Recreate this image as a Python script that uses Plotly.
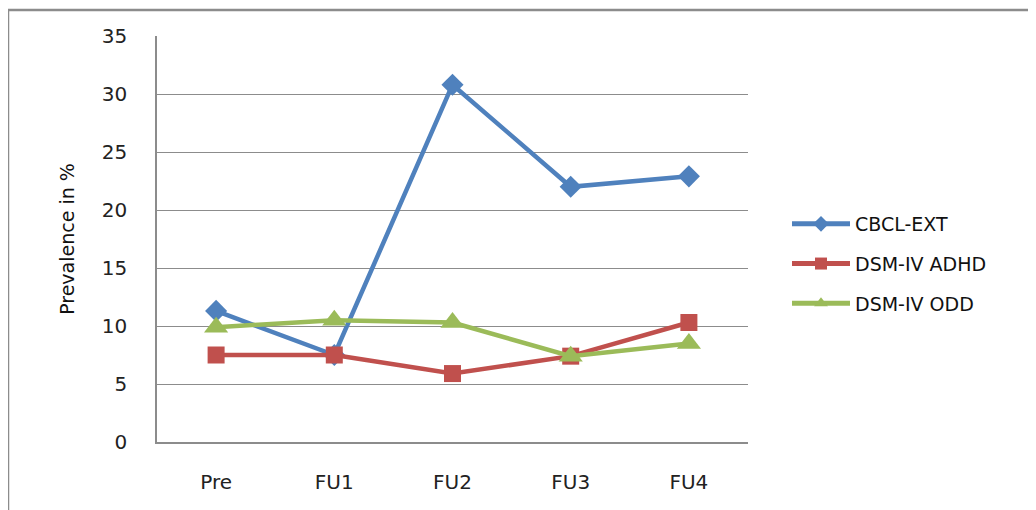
import plotly.graph_objects as go

categories = ["Pre", "FU1", "FU2", "FU3", "FU4"]
cbcl_ext = [11.3, 7.5, 30.8, 22.0, 22.9]
dsm_adhd = [7.5, 7.5, 5.9, 7.4, 10.3]
dsm_odd = [9.9, 10.5, 10.3, 7.4, 8.5]
y_ticks = [0, 5, 10, 15, 20, 25, 30, 35]

series = [
    ("CBCL-EXT", cbcl_ext, "#4F81BD", "diamond", 17),
    ("DSM-IV ADHD", dsm_adhd, "#C0504D", "square", 17),
    ("DSM-IV ODD", dsm_odd, "#9BBB59", "triangle-up", 21),
]

fig = go.Figure()
for name, vals, color, sym, size in series:
    fig.add_trace(go.Scatter(
        x=categories, y=vals, name=name, mode="lines+markers",
        line=dict(color=color, width=4.5),
        marker=dict(symbol=sym, size=size, color=color),
        legendgroup=name,
    ))

# page body has an 8px margin; figure is placed at (8, 8)
OFF = 8
W, H = 1036 - OFF, 510 - OFF
L, T = 157 - OFF, 36 - OFF
R = W - (748 - OFF)
B = H - (442 - OFF)
pw, ph = W - L - R, H - T - B

FONT = "DejaVu Sans, Open Sans, sans-serif"

fig.update_layout(
    width=W, height=H,
    margin=dict(l=L, r=R, t=T, b=B),
    paper_bgcolor="white", plot_bgcolor="white",
    font=dict(family=FONT, color="#222222"),
    showlegend=True,
    legend=dict(
        x=(787 - 157) / pw, y=(442 - 264) / ph, xanchor="left", yanchor="middle",
        font=dict(size=19, color="#111111"), tracegroupgap=12,
        bgcolor="rgba(0,0,0,0)", itemsizing="constant", itemwidth=58,
    ),
)
fig.update_xaxes(
    type="category", range=[-0.5, 4.5],
    showline=True, linecolor="#8c8c8c", linewidth=1.5,
    showgrid=False, ticks="", tickfont=dict(size=20, color="#222222"),
    ticklabelstandoff=21, mirror=False,
)
fig.update_yaxes(
    range=[0, 35], tickvals=y_ticks,
    showline=True, linecolor="#8c8c8c", linewidth=1.5,
    showgrid=True, gridcolor="#8c8c8c", gridwidth=1, zeroline=False,
    ticks="", tickfont=dict(size=20, color="#222222"), ticklabelstandoff=24,
    title=dict(text="Prevalence in %", font=dict(size=19, color="#111111"), standoff=22),
)
# outer chart border
fig.add_shape(type="rect", xref="paper", yref="paper",
              x0=(8 - 157) / pw, x1=(1040 - 157) / pw,
              y0=(442 - 520) / ph, y1=(442 - 10) / ph,
              line=dict(color="#8c8c8c", width=2.5), fillcolor="rgba(0,0,0,0)", layer="below")

fig.write_html("out.html")
